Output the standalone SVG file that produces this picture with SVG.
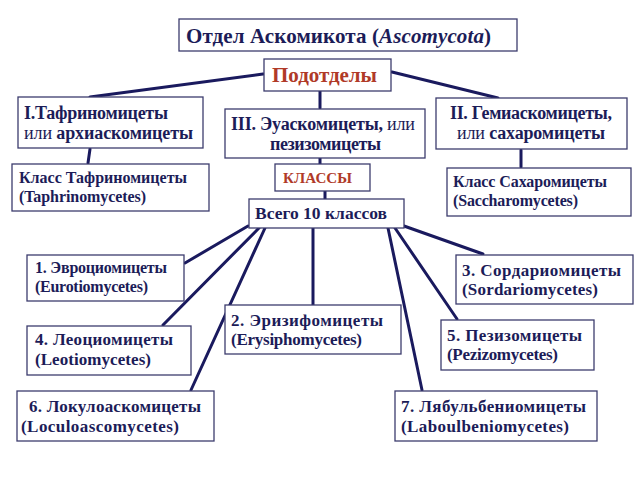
<svg xmlns="http://www.w3.org/2000/svg" width="640" height="480" viewBox="0 0 640 480">
<style>
.box{fill:#fff;stroke:#3c3c6e;stroke-width:1.3}
.t{font-family:"Liberation Serif","Times New Roman",serif;font-weight:bold;fill:#1c1c58}
.n{font-weight:normal}
.red{fill:#b03a28}
.c line{stroke:#1a1a5e;stroke-width:3;stroke-linecap:round}
</style>
<rect width="640" height="480" fill="#fff"/>
<g class="c" id="connectors">
<line x1="263" y1="74" x2="90" y2="97"/>
<line x1="392" y1="72" x2="498" y2="98"/>
<line x1="320" y1="91" x2="320" y2="108"/>
<line x1="90" y1="149" x2="88" y2="163"/>
<line x1="521" y1="150" x2="521" y2="167"/>
<line x1="320" y1="158" x2="320" y2="164"/>
<line x1="325" y1="191" x2="325" y2="199"/>
<line x1="248" y1="226" x2="185" y2="263"/>
<line x1="259" y1="228" x2="163" y2="325"/>
<line x1="265" y1="228" x2="191" y2="390"/>
<line x1="313" y1="228" x2="313" y2="305"/>
<line x1="388" y1="228" x2="422" y2="390"/>
<line x1="395" y1="228" x2="457" y2="319"/>
<line x1="404" y1="226" x2="483" y2="254"/>
</g>
<g id="root"><rect class="box" x="179" y="19" width="338" height="32"/>
<text class="t" x="186" y="43" font-size="21" textLength="305">Отдел Аскомикота (<tspan font-style="italic">Ascomycota</tspan>)</text></g>
<g id="subdivs"><rect class="box" x="264" y="59" width="127" height="32"/>
<text class="t red" x="272" y="82" font-size="21" textLength="105">Подотделы</text></g>
<g id="sub1"><rect class="box" x="18" y="97" width="185" height="51"/>
<text class="t" x="24" y="119" font-size="18" textLength="144">I.Тафриномицеты</text>
<text class="t" x="24" y="139" font-size="18" textLength="169"><tspan class="n">или</tspan> архиаскомицеты</text></g>
<g id="sub3"><rect class="box" x="225" y="109" width="200" height="49"/>
<text class="t" x="231" y="130" font-size="18" textLength="184">III. Эуаскомицеты, <tspan class="n">или</tspan></text>
<text class="t" x="270" y="150" font-size="18" textLength="111">пезизомицеты</text></g>
<g id="sub2"><rect class="box" x="436" y="98" width="191" height="51"/>
<text class="t" x="450" y="119" font-size="18" textLength="162">II. Гемиаскомицеты,</text>
<text class="t" x="457" y="139" font-size="18" textLength="148"><tspan class="n">или</tspan> сахаромицеты</text></g>
<g id="taphr"><rect class="box" x="12" y="164" width="197" height="47"/>
<text class="t" x="19" y="183" font-size="16" textLength="168">Класс Тафриномицеты</text>
<text class="t" x="19" y="202" font-size="16" textLength="127">(Taphrinomycetes)</text></g>
<g id="klassy"><rect class="box" x="275" y="164" width="95" height="27"/>
<text class="t red" x="283" y="183" font-size="15" textLength="69">КЛАССЫ</text></g>
<g id="sacch"><rect class="box" x="447" y="168" width="184" height="48"/>
<text class="t" x="453" y="187" font-size="16" textLength="154">Класс Сахаромицеты</text>
<text class="t" x="453" y="206" font-size="16" textLength="125">(Saccharomycetes)</text></g>
<g id="total"><rect class="box" x="249" y="199" width="155" height="29"/>
<text class="t" x="255" y="219" font-size="17.5" textLength="132">Всего 10 классов</text></g>
<g id="c1"><rect class="box" x="27" y="255" width="157" height="46"/>
<text class="t" x="35" y="273" font-size="16" textLength="132">1. Эвроциомицеты</text>
<text class="t" x="35" y="292" font-size="16" textLength="113">(Eurotiomycetes)</text></g>
<g id="c4"><rect class="box" x="27" y="326" width="164" height="49"/>
<text class="t" x="35" y="345" font-size="17" textLength="138">4. Леоциомицеты</text>
<text class="t" x="35" y="365" font-size="17" textLength="116">(Leotiomycetes)</text></g>
<g id="c6"><rect class="box" x="17" y="391" width="197" height="50"/>
<text class="t" x="29" y="412" font-size="17" textLength="172">6. Локулоаскомицеты</text>
<text class="t" x="21" y="432" font-size="17" textLength="158">(Loculoascomycetes)</text></g>
<g id="c2"><rect class="box" x="225" y="305" width="176" height="49"/>
<text class="t" x="231" y="326" font-size="17" textLength="152">2. Эризифомицеты</text>
<text class="t" x="231" y="345" font-size="17" textLength="131">(Erysiphomycetes)</text></g>
<g id="c3"><rect class="box" x="456" y="255" width="177" height="49"/>
<text class="t" x="462" y="276" font-size="17" textLength="159">3. Сордариомицеты</text>
<text class="t" x="462" y="295" font-size="17" textLength="136">(Sordariomycetes)</text></g>
<g id="c5"><rect class="box" x="441" y="320" width="153" height="50"/>
<text class="t" x="447" y="341" font-size="17" textLength="135">5. Пезизомицеты</text>
<text class="t" x="447" y="360" font-size="17" textLength="111">(Pezizomycetes)</text></g>
<g id="c7"><rect class="box" x="395" y="391" width="202" height="50"/>
<text class="t" x="401" y="412" font-size="17" textLength="185">7. Лябульбениомицеты</text>
<text class="t" x="401" y="432" font-size="17" textLength="168">(Laboulbeniomycetes)</text></g>
</svg>
